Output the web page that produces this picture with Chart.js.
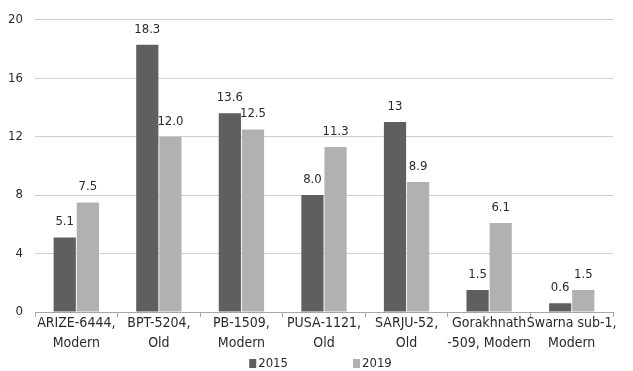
<!DOCTYPE html>
<html>
<head>
<meta charset="utf-8">
<script src="https://cdn.jsdelivr.net/npm/chart.js@4"></script>
<style>
  html, body { margin: 0; padding: 0; background: #fff; }
  #wrap { width: 633px; height: 371px; }
</style>
</head>
<body>
<div id="wrap"><canvas id="yieldChart" width="633" height="371"></canvas></div>
<script>
// Varieties (two-line axis labels)
const varieties = [
    ['ARIZE-6444,', 'Modern'],
    ['BPT-5204,', 'Old'],
    ['PB-1509,', 'Modern'],
    ['PUSA-1121,', 'Old'],
    ['SARJU-52,', 'Old'],
    ['Gorakhnath', '-509, Modern'],
    ['Swarna sub-1,', 'Modern']
];

// Series values
const values2015 = [5.1, 18.3, 13.6, 8.0, 13, 1.5, 0.6];
const values2019 = [7.5, 12.0, 12.5, 11.3, 8.9, 6.1, 1.5];

// Labels printed above the bars
const labels2015 = ['5.1', '18.3', '13.6', '8.0', '13', '1.5', '0.6'];
const labels2019 = ['7.5', '12.0', '12.5', '11.3', '8.9', '6.1', '1.5'];

const seriesNames = ['2015', '2019'];
const yTicks = [0, 4, 8, 12, 16, 20];

const FONT = '"Liberation Sans Narrow", "DejaVu Sans Condensed", sans-serif';
const TEXT = '#2a2a2a';

// Value labels above each bar
const barLabels = {
    id: 'barLabels',
    afterDatasetsDraw(chart) {
        const ctx = chart.ctx;
        const texts = [labels2015, labels2019];
        ctx.save();
        ctx.font = '13px ' + FONT;
        ctx.fillStyle = TEXT;
        ctx.textAlign = 'center';
        ctx.textBaseline = 'alphabetic';
        chart.data.datasets.forEach((ds, i) => {
            chart.getDatasetMeta(i).data.forEach((bar, j) => {
                ctx.fillText(texts[i][j], bar.x, bar.y - 12);
            });
        });
        ctx.restore();
    }
};

// Legend along the bottom, small squares, wide spacing
const bottomLegend = {
    id: 'bottomLegend',
    afterDraw(chart) {
        const ctx = chart.ctx;
        ctx.save();
        ctx.font = '13px ' + FONT;
        ctx.textBaseline = 'middle';
        ctx.textAlign = 'left';
        const gap = 65;
        const box = 7;
        const items = chart.data.datasets.map(ds => ({
            color: ds.backgroundColor,
            text: ds.label,
            w: box + 2 + ctx.measureText(ds.label).width
        }));
        const total = items.reduce((s, it) => s + it.w, 0) + gap * (items.length - 1);
        let x = chart.width / 2 - total / 2 + 4;
        const y = 363.5;
        items.forEach(it => {
            ctx.fillStyle = it.color;
            ctx.fillRect(x, y - 4.5, box, 9);
            ctx.fillStyle = TEXT;
            ctx.fillText(it.text, x + box + 2, y);
            x += it.w + gap;
        });
        ctx.restore();
    }
};

const chart = new Chart(document.getElementById('yieldChart').getContext('2d'), {
    type: 'bar',
    data: {
        labels: varieties,
        datasets: [
            {
                label: seriesNames[0],
                data: values2015,
                backgroundColor: '#5f5f5f',
                categoryPercentage: 0.56,
                barPercentage: 0.96
            },
            {
                label: seriesNames[1],
                data: values2019,
                backgroundColor: '#b1b1b1',
                categoryPercentage: 0.56,
                barPercentage: 0.96
            }
        ]
    },
    options: {
        responsive: false,
        animation: false,
        layout: {
            padding: { top: 8, right: 20, bottom: 0, left: 0 }
        },
        plugins: {
            legend: { display: false },
            tooltip: { enabled: false }
        },
        scales: {
            x: {
                grid: {
                    offset: true,
                    drawOnChartArea: false,
                    drawTicks: true,
                    tickLength: 5,
                    color: '#a6a6a6'
                },
                border: { color: '#a6a6a6', width: 1 },
                ticks: {
                    color: TEXT,
                    font: { family: FONT, size: 14, lineHeight: 1.45 },
                    padding: -4,
                    maxRotation: 0,
                    autoSkip: false
                },
                afterFit(scale) { scale.height = 59; }
            },
            y: {
                min: 0,
                max: 20,
                afterBuildTicks(scale) {
                    scale.ticks = yTicks.map(v => ({ value: v }));
                },
                grid: {
                    color: '#cfcfcf',
                    drawTicks: false
                },
                border: { display: false },
                ticks: {
                    color: TEXT,
                    font: { family: FONT, size: 13 },
                    padding: 12
                },
                afterFit(scale) { scale.width = 35; }
            }
        }
    },
    plugins: [barLabels, bottomLegend]
});
</script>
</body>
</html>
